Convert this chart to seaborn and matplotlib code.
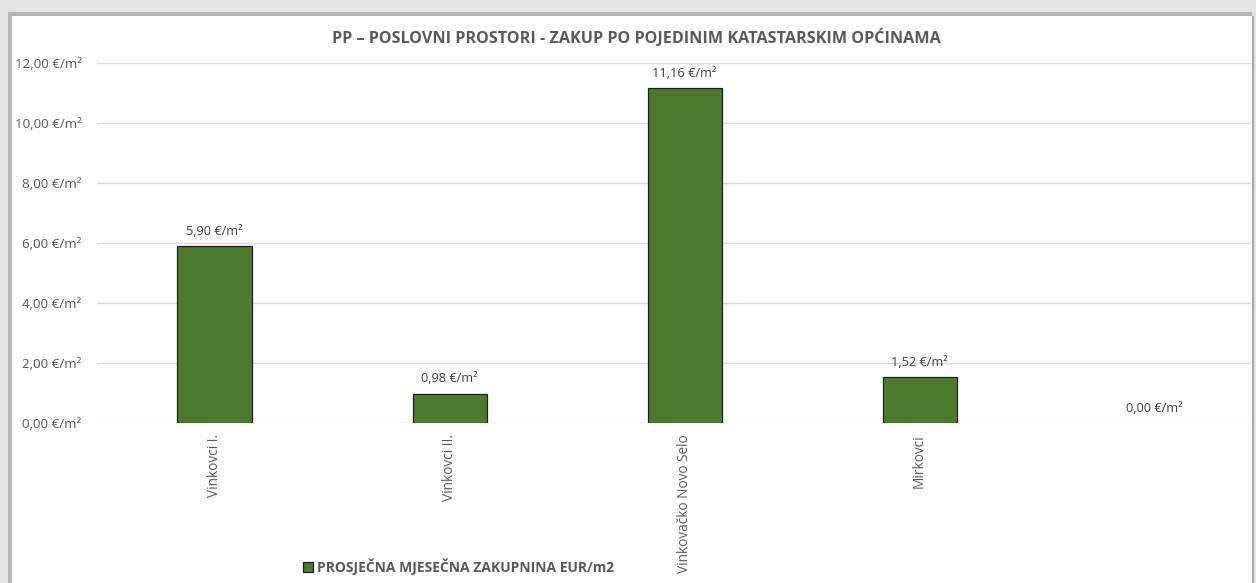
import pandas as pd
import matplotlib.pyplot as plt
import seaborn as sns
import matplotlib
from matplotlib.patches import Rectangle

sns.set_style('white')
matplotlib.rcParams['font.family'] = ['Open Sans', 'DejaVu Sans']

# podaci
opcine = ['Vinkovci I.', 'Vinkovci II.', 'Vinkovačko Novo Selo', 'Mirkovci', ' ']
zakupnina = [5.90, 0.98, 11.16, 1.52, 0.00]
yticks = [0, 2, 4, 6, 8, 10, 12]
serija = 'PROSJEČNA MJESEČNA ZAKUPNINA EUR/m2'

df = pd.DataFrame({'opcina': opcine, 'zakupnina': zakupnina})

W, H = 1256, 583
fig = plt.figure(figsize=(W / 100, H / 100), dpi=100, facecolor='#e4e4e4')

# okvir / sjena
def okvir(x, y, w, h, c):
    fig.patches.append(Rectangle((x / W, y / H), w / W, h / H,
                                 transform=fig.transFigure, facecolor=c,
                                 edgecolor='none', zorder=-10))

okvir(12, 0, 1240, H - 16, 'white')
okvir(12, H - 16, 1240, 4, '#b4b4b4')
okvir(8, 0, 4, H - 12, '#b8b8b8')
okvir(1252, 0, 2, H - 16, '#a8a8a8')

ax = fig.add_axes([97 / W, (H - 423) / H, (1251 - 97) / W, (423 - 63) / H])
ax.set_facecolor('none')

sns.barplot(data=df, x='opcina', y='zakupnina', ax=ax, color='#4E7A2F',
            width=0.315, edgecolor='#1e1e1e', linewidth=0.9, saturation=1,
            label=serija, zorder=3)
for p in ax.patches:
    if p.get_height() == 0:
        p.set_linewidth(0)

ax.set_ylim(0, 12)
ax.set_xlim(-0.5, 4.41)
ax.set_yticks(yticks)
ax.set_yticklabels([f'{v:.2f}'.replace('.', ',') + ' €/m²' for v in yticks],
                   fontsize=9.6, color='#595959')
ax.tick_params(axis='y', length=0, pad=11)
ax.tick_params(axis='x', length=0, pad=8)
ax.set_xticks(range(len(opcine)))
ax.set_xticklabels(opcine, rotation=90, fontsize=9.8, color='#595959', va='top')
ax.yaxis.grid(True, color='#d9d9d9', linewidth=1, zorder=0)
ax.set_axisbelow(True)
sns.despine(ax=ax, left=True, bottom=True)
ax.set_xlabel('')
ax.set_ylabel('')

for i, v in enumerate(zakupnina):
    ax.annotate(f'{v:.2f}'.replace('.', ',') + ' €/m²', (i, v),
                xytext=(0, 6), textcoords='offset points', ha='center',
                va='bottom', fontsize=9.2, color='#404040')

fig.text(0.5 * (330 + 942) / W, (H - 38) / H,
         'PP – POSLOVNI PROSTORI - ZAKUP PO POJEDINIM KATASTARSKIM OPĆINAMA',
         ha='center', va='center', fontsize=11.6, fontweight='bold', color='#595959')

leg = ax.legend(loc='center left', bbox_to_anchor=(290 / W, (H - 567) / H),
                bbox_transform=fig.transFigure, frameon=False,
                prop={'size': 10, 'weight': 'bold'},
                handlelength=0.75, handleheight=0.75, handletextpad=0.3)
for t in leg.get_texts():
    t.set_color('#595959')

fig.savefig('out.png', dpi=100, facecolor=fig.get_facecolor())
